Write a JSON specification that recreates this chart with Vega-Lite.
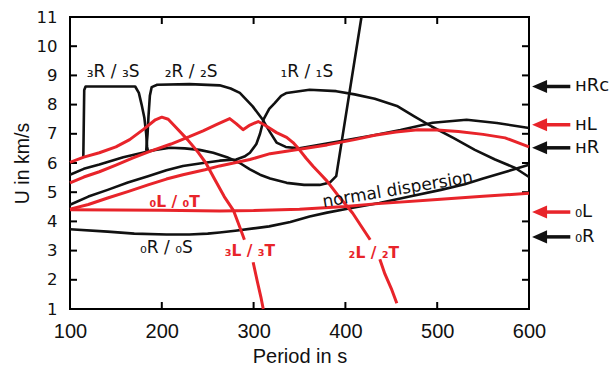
{
  "$schema": "https://vega.github.io/schema/vega-lite/v6.json",
  "width": 459,
  "height": 292,
  "autosize": {"type": "none"},
  "padding": {"left": 70, "top": 17, "right": 84, "bottom": 60},
  "background": "white",
  "config": {
    "view": {"stroke": "#000", "strokeWidth": 2},
    "font": "DejaVu Sans"
  },
  "datasets": {
    "xticks": [{"v": 100}, {"v": 200}, {"v": 300}, {"v": 400}, {"v": 500}, {"v": 600}],
    "yticks": [{"v": 1}, {"v": 2}, {"v": 3}, {"v": 4}, {"v": 5}, {"v": 6}, {"v": 7}, {"v": 8}, {"v": 9}, {"v": 10}, {"v": 11}],
    "curves": [
      {"s": "K1", "x": 114.5, "y": 6.18}, {"s": "K1", "x": 115.5, "y": 8.5}, {"s": "K1", "x": 117, "y": 8.62}, {"s": "K1", "x": 171, "y": 8.62}, {"s": "K1", "x": 175, "y": 8.4}, {"s": "K1", "x": 178, "y": 8.0}, {"s": "K1", "x": 181, "y": 7.55}, {"s": "K1", "x": 183, "y": 7.0}, {"s": "K1", "x": 184, "y": 6.55}, {"s": "K1", "x": 185, "y": 6.4},
      {"s": "K2", "x": 183, "y": 6.42}, {"s": "K2", "x": 184.5, "y": 7.0}, {"s": "K2", "x": 185.5, "y": 7.6}, {"s": "K2", "x": 187, "y": 8.3}, {"s": "K2", "x": 189, "y": 8.6}, {"s": "K2", "x": 195, "y": 8.68}, {"s": "K2", "x": 230, "y": 8.7}, {"s": "K2", "x": 263, "y": 8.66}, {"s": "K2", "x": 275, "y": 8.55}, {"s": "K2", "x": 285, "y": 8.4}, {"s": "K2", "x": 299, "y": 7.94}, {"s": "K2", "x": 310, "y": 7.48}, {"s": "K2", "x": 318, "y": 7.05}, {"s": "K2", "x": 325, "y": 6.7}, {"s": "K2", "x": 335, "y": 6.55}, {"s": "K2", "x": 350, "y": 6.5}, {"s": "K2", "x": 400, "y": 6.78}, {"s": "K2", "x": 431, "y": 6.95}, {"s": "K2", "x": 460, "y": 7.13}, {"s": "K2", "x": 495, "y": 7.38}, {"s": "K2", "x": 532, "y": 7.48}, {"s": "K2", "x": 565, "y": 7.37}, {"s": "K2", "x": 600, "y": 7.2},
      {"s": "K3", "x": 100, "y": 4.57}, {"s": "K3", "x": 120, "y": 4.85}, {"s": "K3", "x": 141, "y": 5.08}, {"s": "K3", "x": 163, "y": 5.33}, {"s": "K3", "x": 185, "y": 5.55}, {"s": "K3", "x": 205, "y": 5.75}, {"s": "K3", "x": 223, "y": 5.9}, {"s": "K3", "x": 245, "y": 6.0}, {"s": "K3", "x": 263, "y": 6.08}, {"s": "K3", "x": 281, "y": 6.12}, {"s": "K3", "x": 290, "y": 6.22}, {"s": "K3", "x": 296, "y": 6.35}, {"s": "K3", "x": 303, "y": 6.65}, {"s": "K3", "x": 307, "y": 7.0}, {"s": "K3", "x": 311, "y": 7.5}, {"s": "K3", "x": 317, "y": 7.85}, {"s": "K3", "x": 323, "y": 8.05}, {"s": "K3", "x": 330, "y": 8.3}, {"s": "K3", "x": 336, "y": 8.4}, {"s": "K3", "x": 361, "y": 8.51}, {"s": "K3", "x": 390, "y": 8.46}, {"s": "K3", "x": 410, "y": 8.35}, {"s": "K3", "x": 432, "y": 8.2}, {"s": "K3", "x": 457, "y": 7.94}, {"s": "K3", "x": 475, "y": 7.6}, {"s": "K3", "x": 494, "y": 7.25}, {"s": "K3", "x": 518, "y": 6.85}, {"s": "K3", "x": 541, "y": 6.45}, {"s": "K3", "x": 563, "y": 6.12}, {"s": "K3", "x": 585, "y": 5.83}, {"s": "K3", "x": 600, "y": 5.52},
      {"s": "K4", "x": 100, "y": 5.6}, {"s": "K4", "x": 115, "y": 5.8}, {"s": "K4", "x": 132, "y": 5.95}, {"s": "K4", "x": 158, "y": 6.2}, {"s": "K4", "x": 179, "y": 6.35}, {"s": "K4", "x": 193, "y": 6.45}, {"s": "K4", "x": 209, "y": 6.52}, {"s": "K4", "x": 225, "y": 6.5}, {"s": "K4", "x": 241, "y": 6.45}, {"s": "K4", "x": 256, "y": 6.35}, {"s": "K4", "x": 271, "y": 6.2}, {"s": "K4", "x": 285, "y": 6.0}, {"s": "K4", "x": 296, "y": 5.78}, {"s": "K4", "x": 307, "y": 5.6}, {"s": "K4", "x": 318, "y": 5.47}, {"s": "K4", "x": 336, "y": 5.32}, {"s": "K4", "x": 355, "y": 5.25}, {"s": "K4", "x": 372, "y": 5.25}, {"s": "K4", "x": 383, "y": 5.33}, {"s": "K4", "x": 390, "y": 5.55}, {"s": "K4", "x": 417.5, "y": 11},
      {"s": "K5", "x": 100, "y": 3.73}, {"s": "K5", "x": 141, "y": 3.65}, {"s": "K5", "x": 170, "y": 3.58}, {"s": "K5", "x": 205, "y": 3.55}, {"s": "K5", "x": 230, "y": 3.55}, {"s": "K5", "x": 250, "y": 3.58}, {"s": "K5", "x": 263, "y": 3.62}, {"s": "K5", "x": 280, "y": 3.68}, {"s": "K5", "x": 300, "y": 3.76}, {"s": "K5", "x": 317, "y": 3.83}, {"s": "K5", "x": 340, "y": 3.98}, {"s": "K5", "x": 361, "y": 4.17}, {"s": "K5", "x": 380, "y": 4.3}, {"s": "K5", "x": 405, "y": 4.45}, {"s": "K5", "x": 437, "y": 4.63}, {"s": "K5", "x": 470, "y": 4.85}, {"s": "K5", "x": 504, "y": 5.08}, {"s": "K5", "x": 530, "y": 5.27}, {"s": "K5", "x": 550, "y": 5.47}, {"s": "K5", "x": 575, "y": 5.7}, {"s": "K5", "x": 600, "y": 5.94},
      {"s": "R1a", "x": 100, "y": 6.02}, {"s": "R1a", "x": 115, "y": 6.2}, {"s": "R1a", "x": 132, "y": 6.35}, {"s": "R1a", "x": 150, "y": 6.55}, {"s": "R1a", "x": 165, "y": 6.8}, {"s": "R1a", "x": 180, "y": 7.15}, {"s": "R1a", "x": 193, "y": 7.48}, {"s": "R1a", "x": 200, "y": 7.57}, {"s": "R1a", "x": 207, "y": 7.5}, {"s": "R1a", "x": 214, "y": 7.27}, {"s": "R1a", "x": 228, "y": 6.8}, {"s": "R1a", "x": 240, "y": 6.35}, {"s": "R1a", "x": 248, "y": 6.0}, {"s": "R1a", "x": 257, "y": 5.48}, {"s": "R1a", "x": 268, "y": 4.85}, {"s": "R1a", "x": 278, "y": 4.38}, {"s": "R1a", "x": 285, "y": 3.8}, {"s": "R1a", "x": 290, "y": 3.37},
      {"s": "R1b", "x": 299.5, "y": 2.6}, {"s": "R1b", "x": 304, "y": 1.95}, {"s": "R1b", "x": 308, "y": 1.4}, {"s": "R1b", "x": 310.5, "y": 1.0},
      {"s": "R2a", "x": 100, "y": 5.32}, {"s": "R2a", "x": 115, "y": 5.52}, {"s": "R2a", "x": 132, "y": 5.7}, {"s": "R2a", "x": 150, "y": 5.93}, {"s": "R2a", "x": 168, "y": 6.17}, {"s": "R2a", "x": 187, "y": 6.4}, {"s": "R2a", "x": 210, "y": 6.65}, {"s": "R2a", "x": 230, "y": 6.9}, {"s": "R2a", "x": 245, "y": 7.1}, {"s": "R2a", "x": 260, "y": 7.32}, {"s": "R2a", "x": 274, "y": 7.52}, {"s": "R2a", "x": 281, "y": 7.35}, {"s": "R2a", "x": 288.5, "y": 7.14}, {"s": "R2a", "x": 296, "y": 7.3}, {"s": "R2a", "x": 305, "y": 7.42}, {"s": "R2a", "x": 312, "y": 7.3}, {"s": "R2a", "x": 325, "y": 7.04}, {"s": "R2a", "x": 336, "y": 6.88}, {"s": "R2a", "x": 343, "y": 6.7}, {"s": "R2a", "x": 350, "y": 6.45}, {"s": "R2a", "x": 357, "y": 6.17}, {"s": "R2a", "x": 365, "y": 5.88}, {"s": "R2a", "x": 372, "y": 5.65}, {"s": "R2a", "x": 380, "y": 5.38}, {"s": "R2a", "x": 393, "y": 4.85}, {"s": "R2a", "x": 408, "y": 4.28}, {"s": "R2a", "x": 418, "y": 3.8}, {"s": "R2a", "x": 427, "y": 3.37},
      {"s": "R2b", "x": 437.5, "y": 2.7}, {"s": "R2b", "x": 443, "y": 2.2}, {"s": "R2b", "x": 450, "y": 1.7}, {"s": "R2b", "x": 456, "y": 1.2},
      {"s": "R3", "x": 100, "y": 4.42}, {"s": "R3", "x": 120, "y": 4.58}, {"s": "R3", "x": 141, "y": 4.8}, {"s": "R3", "x": 163, "y": 5.02}, {"s": "R3", "x": 185, "y": 5.25}, {"s": "R3", "x": 205, "y": 5.45}, {"s": "R3", "x": 223, "y": 5.6}, {"s": "R3", "x": 247, "y": 5.77}, {"s": "R3", "x": 263, "y": 5.9}, {"s": "R3", "x": 296, "y": 6.12}, {"s": "R3", "x": 318, "y": 6.32}, {"s": "R3", "x": 350, "y": 6.47}, {"s": "R3", "x": 380, "y": 6.62}, {"s": "R3", "x": 410, "y": 6.8}, {"s": "R3", "x": 432, "y": 6.95}, {"s": "R3", "x": 455, "y": 7.06}, {"s": "R3", "x": 479, "y": 7.14}, {"s": "R3", "x": 500, "y": 7.13}, {"s": "R3", "x": 523, "y": 7.08}, {"s": "R3", "x": 550, "y": 6.98}, {"s": "R3", "x": 574, "y": 6.86}, {"s": "R3", "x": 600, "y": 6.55},
      {"s": "R4", "x": 100, "y": 4.4}, {"s": "R4", "x": 200, "y": 4.38}, {"s": "R4", "x": 263, "y": 4.36}, {"s": "R4", "x": 300, "y": 4.37}, {"s": "R4", "x": 350, "y": 4.42}, {"s": "R4", "x": 400, "y": 4.51}, {"s": "R4", "x": 432, "y": 4.6}, {"s": "R4", "x": 500, "y": 4.75}, {"s": "R4", "x": 550, "y": 4.86}, {"s": "R4", "x": 600, "y": 4.96}
    ],
    "labels": [
      {"t": "₃R / ₃S", "x": 147, "y": 9.1, "c": "k"},
      {"t": "₂R / ₂S", "x": 232, "y": 9.1, "c": "k"},
      {"t": "₁R / ₁S", "x": 358, "y": 9.1, "c": "k"},
      {"t": "₀R / ₀S", "x": 205, "y": 3.1, "c": "k"},
      {"t": "₀L / ₀T", "x": 214, "y": 4.68, "c": "r"},
      {"t": "₃L / ₃T", "x": 296, "y": 2.97, "c": "r"},
      {"t": "₂L / ₂T", "x": 431, "y": 2.92, "c": "r"}
    ],
    "arrows": [
      {"t": "ʜRᴄ", "y": 8.62, "c": "k"},
      {"t": "ʜL", "y": 7.31, "c": "r"},
      {"t": "ʜR", "y": 6.52, "c": "k"},
      {"t": "₀L", "y": 4.32, "c": "r"},
      {"t": "₀R", "y": 3.47, "c": "k"}
    ]
  },
  "encoding": {
    "x": {"type": "quantitative", "scale": {"domain": [100, 600], "nice": false, "zero": false},
      "axis": {"orient": "bottom", "values": [100, 200, 300, 400, 500, 600], "ticks": false, "domain": false, "grid": false,
        "labelFont": "Liberation Sans", "labelFontSize": 20, "labelColor": "#111", "labelPadding": 12, "labelFlush": false, "labelOverlap": false,
        "title": "Period in s", "titleFont": "Liberation Sans", "titleFontSize": 20, "titleFontWeight": "normal", "titleColor": "#111", "titlePadding": 5}},
    "y": {"type": "quantitative", "scale": {"domain": [1, 11], "nice": false, "zero": false},
      "axis": {"orient": "left", "values": [1, 2, 3, 4, 5, 6, 7, 8, 9, 10, 11], "ticks": false, "domain": false, "grid": false,
        "labelFont": "DejaVu Sans", "labelFontSize": 16.5, "labelColor": "#111", "labelPadding": 13, "labelFlush": false, "labelOverlap": false,
        "title": "U in km/s", "titleFont": "Liberation Sans", "titleFontSize": 19.5, "titleFontWeight": "normal", "titleColor": "#111", "titlePadding": 4}}
  },
  "layer": [
    {
      "data": {"name": "curves"},
      "transform": [{"filter": "indexof(datum.s, 'K') == 0"}],
      "mark": {"type": "line", "color": "#111111", "strokeWidth": 2.6, "strokeJoin": "round"},
      "encoding": {
        "x": {"field": "x", "type": "quantitative"},
        "y": {"field": "y", "type": "quantitative"},
        "detail": {"field": "s"}
      }
    },
    {
      "data": {"name": "xticks"},
      "mark": {"type": "tick", "orient": "vertical", "size": 7, "thickness": 2, "color": "#000", "opacity": 1, "yOffset": -3.5},
      "encoding": {
        "x": {"field": "v", "type": "quantitative"},
        "y": {"datum": 1, "type": "quantitative"}
      }
    },
    {
      "data": {"name": "xticks"},
      "mark": {"type": "tick", "orient": "vertical", "size": 7, "thickness": 2, "color": "#000", "opacity": 1, "yOffset": 3.5},
      "encoding": {
        "x": {"field": "v", "type": "quantitative"},
        "y": {"datum": 11, "type": "quantitative"}
      }
    },
    {
      "data": {"name": "yticks"},
      "mark": {"type": "tick", "orient": "horizontal", "size": 7, "thickness": 2, "color": "#000", "opacity": 1, "xOffset": 3.5},
      "encoding": {
        "y": {"field": "v", "type": "quantitative"},
        "x": {"datum": 100, "type": "quantitative"}
      }
    },
    {
      "data": {"name": "yticks"},
      "mark": {"type": "tick", "orient": "horizontal", "size": 7, "thickness": 2, "color": "#000", "opacity": 1, "xOffset": -3.5},
      "encoding": {
        "y": {"field": "v", "type": "quantitative"},
        "x": {"datum": 600, "type": "quantitative"}
      }
    },
    {
      "data": {"name": "curves"},
      "transform": [{"filter": "indexof(datum.s, 'R') == 0"}],
      "mark": {"type": "line", "color": "#e8242a", "strokeWidth": 3, "strokeJoin": "round"},
      "encoding": {
        "x": {"field": "x", "type": "quantitative"},
        "y": {"field": "y", "type": "quantitative"},
        "detail": {"field": "s"}
      }
    },
    {
      "data": {"name": "labels"},
      "transform": [{"filter": "datum.c == 'k'"}],
      "mark": {"type": "text", "font": "DejaVu Sans", "fontSize": 17, "color": "#111111", "align": "center", "baseline": "middle"},
      "encoding": {
        "x": {"field": "x", "type": "quantitative"},
        "y": {"field": "y", "type": "quantitative"},
        "text": {"field": "t"}
      }
    },
    {
      "data": {"name": "labels"},
      "transform": [{"filter": "datum.c == 'r'"}],
      "mark": {"type": "text", "font": "DejaVu Sans", "fontSize": 15.5, "fontWeight": "bold", "color": "#e8242a", "align": "center", "baseline": "middle"},
      "encoding": {
        "x": {"field": "x", "type": "quantitative"},
        "y": {"field": "y", "type": "quantitative"},
        "text": {"field": "t"}
      }
    },
    {
      "data": {"values": [{"t": "normal dispersion", "x": 457, "y": 5.08}]},
      "mark": {"type": "text", "font": "DejaVu Sans", "fontSize": 17, "color": "#111111", "align": "center", "baseline": "middle", "angle": 350.5},
      "encoding": {
        "x": {"field": "x", "type": "quantitative"},
        "y": {"field": "y", "type": "quantitative"},
        "text": {"field": "t"}
      }
    },
    {
      "data": {"name": "arrows"},
      "mark": {"type": "rule", "strokeWidth": 3.5},
      "encoding": {
        "x": {"datum": 617, "type": "quantitative"},
        "x2": {"datum": 645},
        "y": {"field": "y", "type": "quantitative"},
        "color": {"field": "c", "type": "nominal", "scale": {"domain": ["k", "r"], "range": ["#111111", "#e8242a"]}, "legend": null}
      }
    },
    {
      "data": {"name": "arrows"},
      "mark": {"type": "point", "shape": "M-1,0L1,-0.87L1,0.87Z", "filled": true, "size": 225, "opacity": 1},
      "encoding": {
        "x": {"datum": 611.5, "type": "quantitative"},
        "y": {"field": "y", "type": "quantitative"},
        "color": {"field": "c", "type": "nominal", "scale": {"domain": ["k", "r"], "range": ["#111111", "#e8242a"]}, "legend": null}
      }
    },
    {
      "data": {"name": "arrows"},
      "mark": {"type": "text", "font": "DejaVu Sans", "fontSize": 18, "align": "left", "baseline": "middle", "color": "#111111"},
      "encoding": {
        "x": {"datum": 650, "type": "quantitative"},
        "y": {"field": "y", "type": "quantitative"},
        "text": {"field": "t"}
      }
    }
  ]
}
